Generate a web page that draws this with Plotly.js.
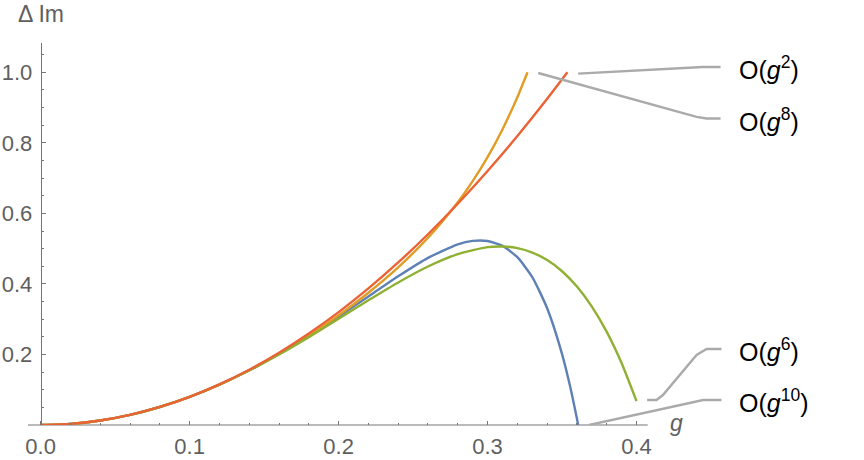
<!DOCTYPE html>
<html><head><meta charset="utf-8">
<script src="https://cdn.plot.ly/plotly-3.0.1.min.js"></script>
<style>html,body{margin:0;padding:0;background:#fff}</style>
</head><body><div id="chart" style="width:864px;height:460px"></div>
<script>
// O(g^10) – blue
const gBlue = [0,0.02,0.04,0.06,0.08,0.10,0.12,0.14,0.16,0.18,0.20,0.22,0.24,0.26,0.28,0.29,0.30,0.31,0.32,0.33,0.34,0.35,0.355,0.36,0.3608];
const yBlue = [0,0.0032,0.0128,0.0288,0.0511,0.0797,0.1145,0.1551,0.2011,0.2520,0.3070,0.3643,0.4215,0.4738,0.5123,0.5219,0.5216,0.5079,0.4757,0.4192,0.3309,0.2010,0.1167,0.0175,0];
// O(g^8) – orange
const gOrange = [0,0.02,0.04,0.06,0.08,0.10,0.12,0.14,0.16,0.18,0.20,0.22,0.24,0.26,0.28,0.29,0.30,0.31,0.32,0.3268];
const yOrange = [0,0.0032,0.0128,0.0288,0.0511,0.0797,0.1145,0.1552,0.2015,0.2534,0.3111,0.3750,0.4470,0.5307,0.6316,0.6914,0.7595,0.8380,0.9292,1.0];
// O(g^6) – green
const gGreen = [0,0.02,0.04,0.06,0.08,0.10,0.12,0.14,0.16,0.18,0.20,0.22,0.24,0.26,0.28,0.30,0.31,0.32,0.33,0.34,0.35,0.36,0.37,0.38,0.39,0.40];
const yGreen = [0,0.0032,0.0128,0.0288,0.0511,0.0797,0.1143,0.1546,0.1998,0.2491,0.3011,0.3536,0.4042,0.4494,0.4846,0.5042,0.5061,0.5014,0.4889,0.4675,0.4359,0.3925,0.3357,0.2640,0.1753,0.0676];
// O(g^2) – red
const gRed = [0,0.02,0.04,0.06,0.08,0.10,0.12,0.14,0.16,0.18,0.20,0.22,0.24,0.26,0.28,0.30,0.32,0.34,0.3536];
const yRed = [0,0.0032,0.0128,0.0288,0.0512,0.08,0.1152,0.1568,0.2048,0.2592,0.32,0.3872,0.4608,0.5408,0.6272,0.72,0.8192,0.9248,1.0];

// callout leader lines
const c2x = [0.3608,0.4445,0.4564], c2y = [0.9963,1.015,1.015];
const c8x = [0.334,0.4403,0.447,0.4564], c8y = [0.998,0.8734,0.8688,0.8688];
const c6x = [0.4071,0.4134,0.4177,0.4403,0.447,0.457], c6y = [0.0708,0.0708,0.085,0.1983,0.2153,0.2153];
const c10x = [0.3682,0.4447,0.457], c10y = [0.0,0.0708,0.0708];

const labels = ["O(<i>g</i><sup>2</sup>)","O(<i>g</i><sup>8</sup>)","O(<i>g</i><sup>6</sup>)","O(<i>g</i><sup>10</sup>)"];
const labelY = [1.012,0.866,0.212,0.068];
const labelX = 0.4676;

const xTicks = [0,0.1,0.2,0.3,0.4];
const xTickText = ["0.0","0.1","0.2","0.3","0.4"];
const xMinor = [0.02,0.04,0.06,0.08,0.12,0.14,0.16,0.18,0.22,0.24,0.26,0.28,0.32,0.34,0.36,0.38];
const yTicks = [0.2,0.4,0.6,0.8,1.0];
const yTickText = ["0.2","0.4","0.6","0.8","1.0"];
const yMinor = [0.05,0.1,0.15,0.25,0.3,0.35,0.45,0.5,0.55,0.65,0.7,0.75,0.85,0.9,0.95,1.05];

const xRange = [-0.0085, 0.55];
const yRange = [0, 1.083];
const xAxisEnd = 0.4075;

const FONT = "Liberation Sans, Arial, sans-serif";
const GRAY = "#5f5f5f";
const AXIS = "#777777";
const LW = 2.4;

function curve(x,y,c){return {x:x,y:y,type:'scatter',mode:'lines',line:{color:c,width:LW,shape:'spline',smoothing:0.6},hoverinfo:'skip',showlegend:false};}
function leader(x,y){return {x:x,y:y,type:'scatter',mode:'lines',line:{color:'#aaaaaa',width:2.4},hoverinfo:'skip',showlegend:false};}

const data = [
  curve(gBlue,yBlue,'#5E81B5'),
  curve(gOrange,yOrange,'#E19C24'),
  curve(gGreen,yGreen,'#8FB032'),
  curve(gRed,yRed,'#EB6235'),
  leader(c2x,c2y), leader(c8x,c8y), leader(c6x,c6y), leader(c10x,c10y)
];

const span = xRange[1]-xRange[0];
const annotations = labels.map((t,i)=>({x:labelX,y:labelY[i],xref:'x',yref:'y',text:t,showarrow:false,xanchor:'left',yanchor:'middle',font:{family:FONT,size:25,color:'#000'}}));
annotations.push({x:0,y:1.077,xref:'x',yref:'paper',text:'Δ Im',showarrow:false,xanchor:'center',yanchor:'middle',font:{family:FONT,size:23,color:GRAY}});
annotations.push({x:0.4265,y:0.005,xref:'x',yref:'y',text:'<i>g</i>',showarrow:false,xanchor:'center',yanchor:'middle',font:{family:FONT,size:23,color:GRAY}});

const layout = {
  width:864,height:460,
  margin:{l:28,r:4,t:43,b:35},
  paper_bgcolor:'#fff',plot_bgcolor:'#fff',
  showlegend:false,
  xaxis:{range:xRange,showgrid:false,zeroline:false,showline:false,
    tickmode:'array',tickvals:xTicks,ticktext:xTickText,ticks:'inside',ticklen:4.5,tickwidth:1,tickcolor:AXIS,
    ticklabelstandoff:6,
    minor:{tickmode:'array',tickvals:xMinor,ticks:'inside',ticklen:2.5,tickwidth:1,tickcolor:AXIS,showgrid:false},
    tickfont:{family:FONT,size:22,color:GRAY}},
  yaxis:{range:yRange,showgrid:false,zeroline:false,showline:true,linecolor:AXIS,linewidth:1.2,
    anchor:'free',position:(0-xRange[0])/span,
    tickmode:'array',tickvals:yTicks,ticktext:yTickText,ticks:'inside',ticklen:4.5,tickwidth:1,tickcolor:AXIS,
    ticklabelstandoff:4,
    minor:{tickmode:'array',tickvals:yMinor,ticks:'inside',ticklen:2.5,tickwidth:1,tickcolor:AXIS,showgrid:false},
    tickfont:{family:FONT,size:22,color:GRAY}},
  shapes:[{type:'line',xref:'paper',yref:'paper',x0:0,x1:(xAxisEnd-xRange[0])/span,y0:0,y1:0,line:{color:AXIS,width:1.2},layer:'below'}],
  annotations:annotations
};
Plotly.newPlot('chart',data,layout,{staticPlot:true,displayModeBar:false});
</script></body></html>
